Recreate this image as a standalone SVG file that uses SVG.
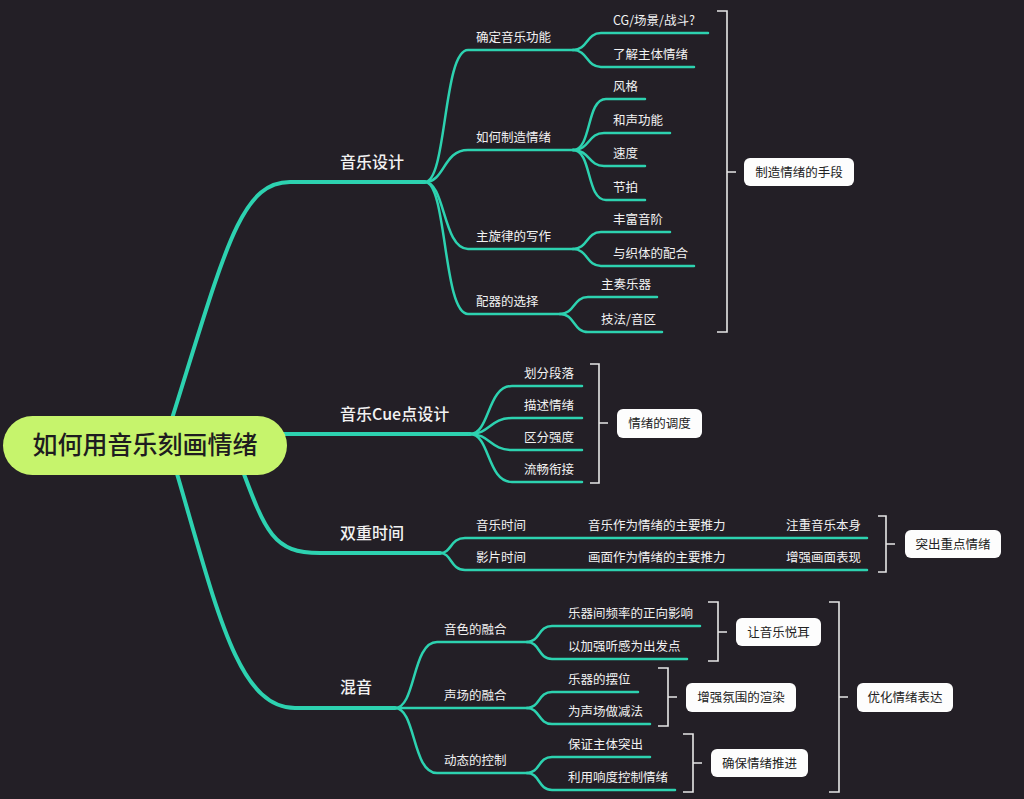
<svg xmlns="http://www.w3.org/2000/svg" width="1024" height="799" viewBox="0 0 1024 799">
<style>
.bg{fill:#231f26}
.main{fill:none;stroke:#2dd2b0;stroke-width:4;stroke-linecap:round}
.sub{fill:none;stroke:#2dd2b0;stroke-width:2.5;stroke-linecap:round}
.br{fill:none;stroke:#e6e6e6;stroke-width:1.6}
text{font-family:"Noto Sans CJK SC","Noto Sans",sans-serif;fill:#f2f2f2}
.root{font-size:25px;font-weight:500;fill:#1e1c20}
.l2{font-size:16px;font-weight:500}
.l3{font-size:12.5px}
.box{fill:#fdfdfd}
.bt{font-size:12.5px;fill:#222;text-anchor:middle}
</style>
<rect class="bg" x="0" y="0" width="1024" height="799"/>
<g id="connectors">
<path class="main" d="M170 425 C225 250 240 182 290 182 L425 182"/>
<path class="main" d="M250 434 L470 434"/>
<path class="main" d="M235 450 C265 530 270 553 320 553 L440 553"/>
<path class="main" d="M170 450 C215 600 235 708 295 708 L395 708"/>
<path class="sub" d="M425 182 C447 182 443 50 468 50 L573 50"/>
<path class="sub" d="M425 182 C445 182 443 150 468 150 L573 150"/>
<path class="sub" d="M425 182 C445 182 443 249 468 249 L573 249"/>
<path class="sub" d="M425 182 C447 182 443 314 468 314 L560 314"/>
<path class="sub" d="M573 50 C588 50 586 33 601 33 L708 33"/>
<path class="sub" d="M573 50 C588 50 586 67 601 67 L694 67"/>
<path class="sub" d="M573 150 C592 150 586 99 606 99 L645 99"/>
<path class="sub" d="M573 150 C590 150 588 133 604 133 L670 133"/>
<path class="sub" d="M573 150 C590 150 588 166 604 166 L645 166"/>
<path class="sub" d="M573 150 C592 150 586 200 606 200 L645 200"/>
<path class="sub" d="M573 249 C588 249 586 232 601 232 L670 232"/>
<path class="sub" d="M573 249 C588 249 586 266 601 266 L694 266"/>
<path class="sub" d="M560 314 C575 314 573 297 588 297 L657 297"/>
<path class="sub" d="M560 314 C575 314 573 332 588 332 L662 332"/>
<path class="sub" d="M470 434 C490 434 487 386 512 386 L582 386"/>
<path class="sub" d="M470 434 C490 434 490 418 512 418 L582 418"/>
<path class="sub" d="M470 434 C490 434 490 450 512 450 L582 450"/>
<path class="sub" d="M470 434 C490 434 487 482 512 482 L582 482"/>
<path class="sub" d="M440 553 C452 553 450 538 465 538 L867 538"/>
<path class="sub" d="M440 553 C452 553 450 570 465 570 L867 570"/>
<path class="sub" d="M395 708 C416 708 412 642 437 642 L527 642"/>
<path class="sub" d="M395 708 L527 708"/>
<path class="sub" d="M395 708 C416 708 412 773 437 773 L527 773"/>
<path class="sub" d="M527 642 C540 642 538 626 552 626 L700 626"/>
<path class="sub" d="M527 642 C540 642 538 659 552 659 L687 659"/>
<path class="sub" d="M527 708 C540 708 538 692 552 692 L638 692"/>
<path class="sub" d="M527 708 C540 708 538 724 552 724 L650 724"/>
<path class="sub" d="M527 773 C540 773 538 757 552 757 L650 757"/>
<path class="sub" d="M527 773 C540 773 538 790 552 790 L675 790"/>
</g>
<g id="brackets">
<path class="br" d="M717 11 H727 V332 H717 M727 172 H736"/>
<path class="br" d="M590 364 H599 V483 H590 M599 423 H608"/>
<path class="br" d="M878 516 H886 V572 H878 M886 544 H895"/>
<path class="br" d="M708 602 H718 V661 H708 M718 632 H727"/>
<path class="br" d="M658 668 H668 V726 H658 M668 697 H677"/>
<path class="br" d="M683 734 H693 V792 H683 M693 763 H702"/>
<path class="br" d="M829 602 H839 V792 H829 M839 697 H848"/>
</g>
<g id="root">
<rect x="3" y="416" width="284" height="59" rx="29.5" fill="#c6f46c"/>
<text class="root" x="145" y="454" text-anchor="middle">如何用音乐刻画情绪</text>
</g>
<g id="n-music-design"><text class="l2" x="340" y="168">音乐设计</text></g>
<g id="n-func"><text class="l3" x="476" y="42">确定音乐功能</text></g>
<g id="n-cg"><text class="l3" x="613" y="25">CG/场景/战斗?</text></g>
<g id="n-subject"><text class="l3" x="613" y="59">了解主体情绪</text></g>
<g id="n-make"><text class="l3" x="476" y="142">如何制造情绪</text></g>
<g id="n-style"><text class="l3" x="613" y="91">风格</text></g>
<g id="n-harmony"><text class="l3" x="613" y="125">和声功能</text></g>
<g id="n-speed"><text class="l3" x="613" y="158">速度</text></g>
<g id="n-beat"><text class="l3" x="613" y="192">节拍</text></g>
<g id="n-melody"><text class="l3" x="476" y="241">主旋律的写作</text></g>
<g id="n-scale"><text class="l3" x="613" y="224">丰富音阶</text></g>
<g id="n-texture"><text class="l3" x="613" y="258">与织体的配合</text></g>
<g id="n-orch"><text class="l3" x="476" y="306">配器的选择</text></g>
<g id="n-lead"><text class="l3" x="601" y="289">主奏乐器</text></g>
<g id="n-tech"><text class="l3" x="601" y="324">技法/音区</text></g>
<g id="n-cue"><text class="l2" x="340" y="420">音乐Cue点设计</text></g>
<g id="n-seg"><text class="l3" x="524" y="378">划分段落</text></g>
<g id="n-desc"><text class="l3" x="524" y="410">描述情绪</text></g>
<g id="n-int"><text class="l3" x="524" y="442">区分强度</text></g>
<g id="n-flow"><text class="l3" x="524" y="474">流畅衔接</text></g>
<g id="n-dual"><text class="l2" x="340" y="539">双重时间</text></g>
<g id="n-mtime"><text class="l3" x="476" y="530">音乐时间</text></g>
<g id="n-mdrive"><text class="l3" x="588" y="530">音乐作为情绪的主要推力</text></g>
<g id="n-mself"><text class="l3" x="786" y="530">注重音乐本身</text></g>
<g id="n-ftime"><text class="l3" x="476" y="562">影片时间</text></g>
<g id="n-fdrive"><text class="l3" x="588" y="562">画面作为情绪的主要推力</text></g>
<g id="n-fself"><text class="l3" x="786" y="562">增强画面表现</text></g>
<g id="n-mix"><text class="l2" x="340" y="693">混音</text></g>
<g id="n-timbre"><text class="l3" x="444" y="634">音色的融合</text></g>
<g id="n-freq"><text class="l3" x="568" y="618">乐器间频率的正向影响</text></g>
<g id="n-listen"><text class="l3" x="568" y="651">以加强听感为出发点</text></g>
<g id="n-field"><text class="l3" x="444" y="700">声场的融合</text></g>
<g id="n-place"><text class="l3" x="568" y="684">乐器的摆位</text></g>
<g id="n-reduce"><text class="l3" x="568" y="716">为声场做减法</text></g>
<g id="n-dyn"><text class="l3" x="444" y="765">动态的控制</text></g>
<g id="n-main"><text class="l3" x="568" y="749">保证主体突出</text></g>
<g id="n-loud"><text class="l3" x="568" y="782">利用响度控制情绪</text></g>
<g id="s-means"><rect class="box" x="744" y="158" width="110" height="28" rx="6"/><text class="bt" x="799" y="176.5">制造情绪的手段</text></g>
<g id="s-dispatch"><rect class="box" x="617" y="409" width="85" height="29" rx="6"/><text class="bt" x="659.5" y="428">情绪的调度</text></g>
<g id="s-highlight"><rect class="box" x="905" y="530" width="96" height="28" rx="6"/><text class="bt" x="953" y="548.5">突出重点情绪</text></g>
<g id="s-pleasant"><rect class="box" x="736" y="618" width="85" height="28" rx="6"/><text class="bt" x="778.5" y="636.5">让音乐悦耳</text></g>
<g id="s-atmos"><rect class="box" x="686" y="683" width="110" height="29" rx="6"/><text class="bt" x="741" y="702">增强氛围的渲染</text></g>
<g id="s-push"><rect class="box" x="711" y="749" width="97" height="28" rx="6"/><text class="bt" x="759.5" y="767.5">确保情绪推进</text></g>
<g id="s-optimize"><rect class="box" x="857" y="683" width="96" height="29" rx="6"/><text class="bt" x="905" y="702">优化情绪表达</text></g>
</svg>
